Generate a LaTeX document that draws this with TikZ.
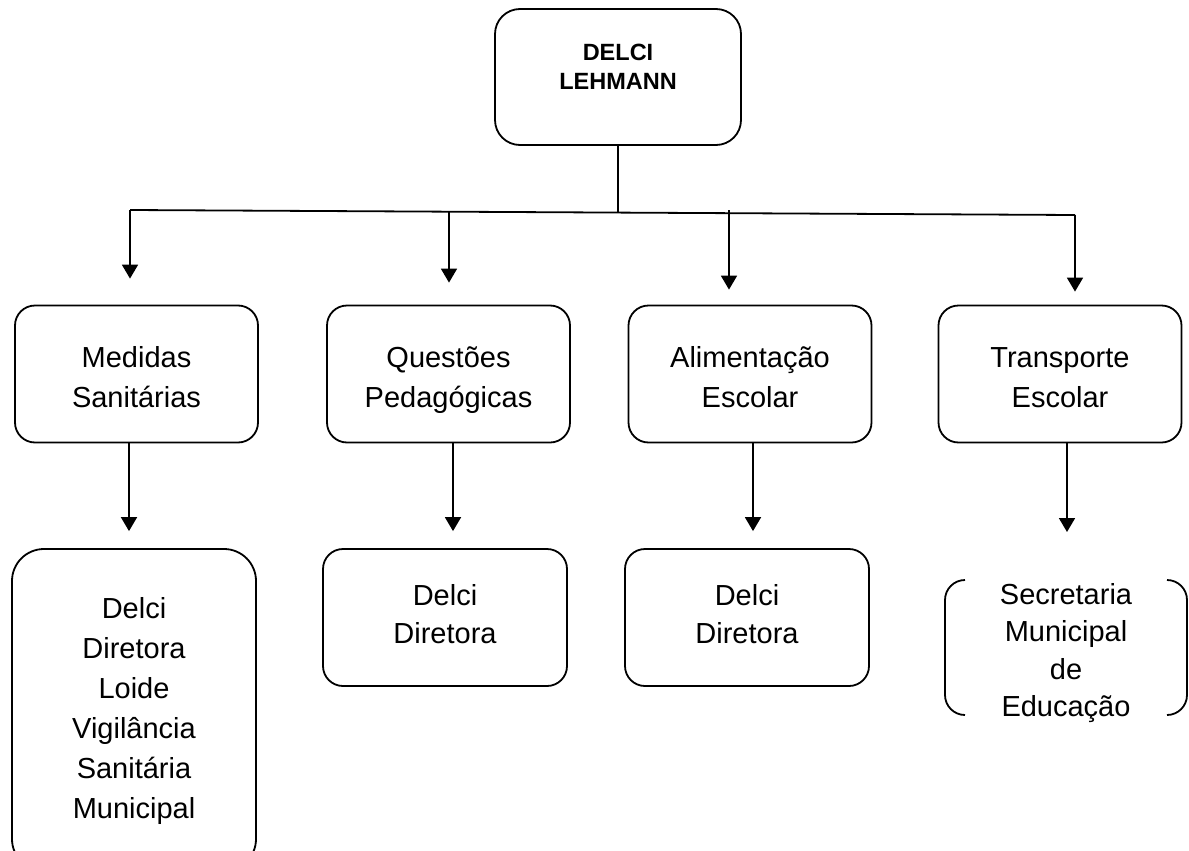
\documentclass[tikz,border=0pt]{standalone}
\usepackage{fontspec}
\setmainfont{Liberation Sans}
\usetikzlibrary{arrows.meta,calc}
\newcommand\myTop[1]{\rule{0pt}{#1}}
\newcommand\myBot[1]{\rule[-#1]{0pt}{#1}}
\tikzset{
  box/.style={draw, line width=0.9pt, rounded corners=10pt, align=center,
    minimum width=121.5pt, minimum height=68.5pt, inner sep=0pt},
  txt/.style={font=\fontsize{14.5}{20}\selectfont},
  conn/.style={line width=0.9pt},
  arr/.style={line width=0.9pt, -{Triangle[width=8pt,length=7pt]}}
}
\begin{document}
\begin{tikzpicture}[x=0.5pt,y=-0.5pt]
\clip (0,0) rectangle (1189,851);
\fill[white] (0,0) rectangle (1189,851);
% top
\node[box, rounded corners=12.5pt, minimum width=123pt, minimum height=68pt,
  font=\bfseries\fontsize{11.75}{14.5}\selectfont] (top) at (618,77) {\myTop{9pt}DELCI\\LEHMANN\myBot{11.5pt}};
% row 1
\node[box, txt] (m1) at (136.5,374) {\myTop{17pt}Medidas\\Sanitárias\myBot{4pt}};
\node[box, txt] (q1) at (448.5,374) {\myTop{17pt}Questões\\Pedagógicas\myBot{4pt}};
\node[box, txt] (a1) at (750,374) {\myTop{17pt}Alimentação\\Escolar\myBot{4pt}};
\node[box, txt] (t1) at (1060,374) {\myTop{17pt}Transporte\\Escolar\myBot{4pt}};
% row 2
\node[box, txt, rounded corners=16pt, minimum width=122pt, minimum height=161pt] (m2) at (134,710) {\myTop{12pt}Delci\\Diretora\\Loide\\Vigilância\\Sanitária\\Municipal\myBot{4pt}};
\node[box, font=\fontsize{14.5}{19}\selectfont, minimum width=122pt] (q2) at (445,617.5) {\myTop{11pt}Delci\\Diretora\myBot{4.5pt}};
\node[box, font=\fontsize{14.5}{19}\selectfont, minimum width=122pt] (a2) at (747,617.5) {\myTop{11pt}Delci\\Diretora\myBot{4.5pt}};
\node[align=center, font=\fontsize{14.5}{18.7}\selectfont, inner sep=0pt] (t2) at (1066,647.5) {\myTop{17pt}Secretaria\\Municipal\\de\\Educação\myBot{4pt}};
\coordinate (t2nw) at ($(t2.center)+(-121,-67.5)$);
\coordinate (t2sw) at ($(t2.center)+(-121,67.5)$);
\coordinate (t2ne) at ($(t2.center)+(121,-67.5)$);
\coordinate (t2se) at ($(t2.center)+(121,67.5)$);
\draw[conn, rounded corners=10pt] ($(t2nw)+(20,0)$) -- (t2nw) -- (t2sw) -- ++(20,0);
\draw[conn, rounded corners=10pt] ($(t2ne)+(-20,0)$) -- (t2ne) -- (t2se) -- ++(-20,0);
% bus
\coordinate (b1) at (130,210);
\coordinate (b2) at (449,211.5);
\coordinate (b3) at (729,213);
\coordinate (b4) at (1075,215);
\coordinate (j) at (618,212);
\draw[conn] (top.south) -- (j);
\draw[conn] (b1) -- (b4);
\draw[arr, shorten >=13pt] (b1) -- (b1 |- m1.north);
\draw[arr, shorten >=11pt] (b2) -- (b2 |- q1.north);
\draw[arr, shorten >=7.5pt] ([yshift=1.5pt]b3) -- (b3 |- a1.north);
\draw[arr, shorten >=6.5pt] (b4) -- (b4 |- t1.north);
% row1 -> row2
\draw[arr, shorten >=8.5pt] ([xshift=-3.75pt]m1.south) -- ([xshift=-3.75pt]m1.south |- m2.north);
\draw[arr, shorten >=8.5pt] ([xshift=2.25pt]q1.south) -- ([xshift=2.25pt]q1.south |- q2.north);
\draw[arr, shorten >=8.5pt] ([xshift=1.5pt]a1.south) -- ([xshift=1.5pt]a1.south |- a2.north);
\draw[arr, shorten >=24pt] ([xshift=3.5pt]t1.south) -- ([xshift=3.5pt]t1.south |- t2nw);
\end{tikzpicture}
\end{document}
